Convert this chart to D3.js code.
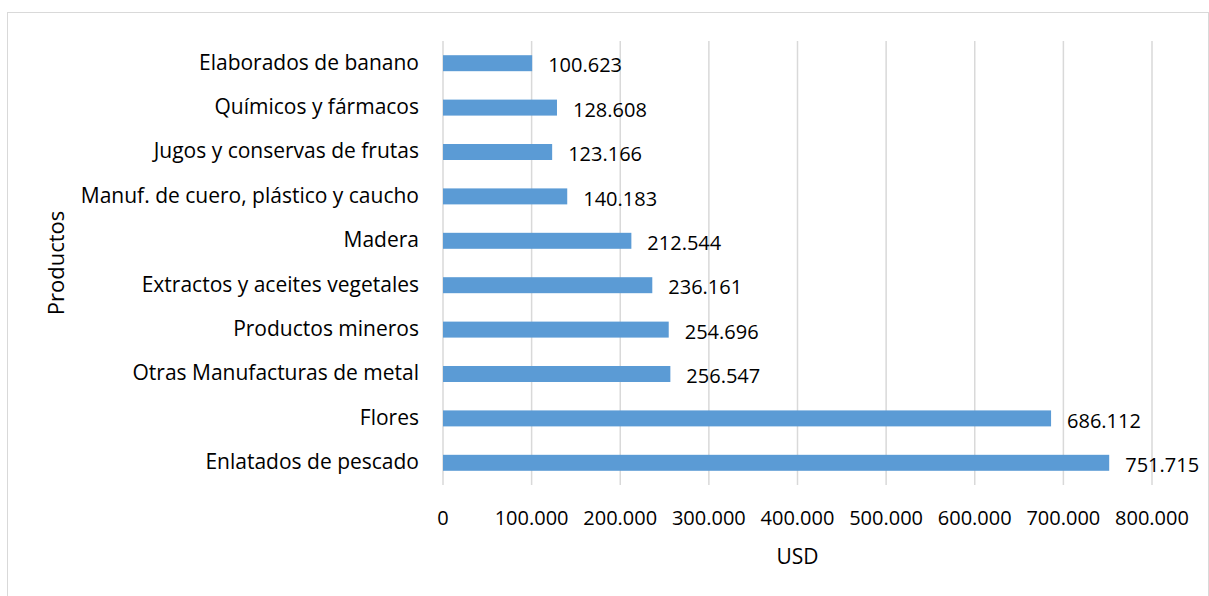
<!DOCTYPE html>
<html>
<head>
<meta charset="utf-8">
<script src="https://cdn.jsdelivr.net/npm/d3@7"></script>
<style>
body { margin: 0; background: #fff; }
svg text { font-family: "Open Sans", sans-serif; fill: #000; }
</style>
</head>
<body>
<svg></svg>
<script>
// data, top to bottom as in the chart
var productos = ["Elaborados de banano", "Químicos y fármacos", "Jugos y conservas de frutas",
    "Manuf. de cuero, plástico y caucho", "Madera", "Extractos y aceites vegetales",
    "Productos mineros", "Otras Manufacturas de metal", "Flores", "Enlatados de pescado"];
var valores = [100623, 128608, 123166, 140183, 212544, 236161, 254696, 256547, 686112, 751715];
var ticks = [0, 100000, 200000, 300000, 400000, 500000, 600000, 700000, 800000];

var width = 1209, height = 596;
var margin = { top: 41, right: 57, bottom: 111, left: 443 };
var chartWidth = width - margin.left - margin.right,
    chartHeight = height - margin.top - margin.bottom;

var fmt = function(v) {
    return v === 0 ? "0" : d3.format(",")(v).replace(/,/g, ".");
};

var svg = d3.select("svg").attr("width", width).attr("height", height);

// outer frame
svg.append("rect")
    .attr("x", 7.5).attr("y", 12.5)
    .attr("width", 1201).attr("height", 600)
    .attr("fill", "none").attr("stroke", "#d9d9d9").attr("stroke-width", 1);

var g = svg.append("g").attr("transform", "translate(" + margin.left + "," + margin.top + ")");

var x = d3.scaleLinear().domain([0, 800000]).range([0, chartWidth]);
var y = d3.scaleBand().domain(productos).range([0, chartHeight]).paddingInner(0.64).paddingOuter(0.32);

// grid
g.append("g").selectAll("line").data(ticks).enter().append("line")
    .attr("x1", function(d) { return x(d); })
    .attr("x2", function(d) { return x(d); })
    .attr("y1", 0).attr("y2", chartHeight)
    .attr("stroke", "#d9d9d9").attr("stroke-width", 1.5);

// x tick labels
g.append("g").selectAll("text").data(ticks).enter().append("text")
    .attr("x", function(d) { return x(d); })
    .attr("y", chartHeight + 40)
    .attr("text-anchor", "middle")
    .style("font-size", "20px")
    .text(fmt);

// category labels
g.append("g").selectAll("text").data(productos).enter().append("text")
    .attr("x", -24)
    .attr("y", function(d) { return y(d) + y.bandwidth() / 2; })
    .attr("dy", "0.3em")
    .attr("text-anchor", "end")
    .style("font-size", "21px")
    .text(function(d) { return d; });

// bars
g.selectAll(".bar").data(productos).enter().append("rect")
    .attr("class", "bar")
    .attr("x", 0)
    .attr("y", function(d) { return y(d); })
    .attr("width", function(d, i) { return x(valores[i]); })
    .attr("height", y.bandwidth())
    .attr("fill", "#5b9bd5");

// value labels
g.selectAll(".lbl").data(productos).enter().append("text")
    .attr("class", "lbl")
    .attr("x", function(d, i) { return x(valores[i]) + 16; })
    .attr("y", function(d) { return y(d) + y.bandwidth() / 2 + 2; })
    .attr("dy", "0.36em")
    .style("font-size", "20px")
    .text(function(d, i) { return fmt(valores[i]); });

// axis titles
svg.append("text")
    .attr("x", margin.left + chartWidth / 2)
    .attr("y", 564)
    .attr("text-anchor", "middle")
    .style("font-size", "21px")
    .text("USD");

svg.append("text")
    .attr("transform", "translate(64," + (margin.top + chartHeight / 2) + ") rotate(-90)")
    .attr("text-anchor", "middle")
    .style("font-size", "22px")
    .text("Productos");
</script>
</body>
</html>
